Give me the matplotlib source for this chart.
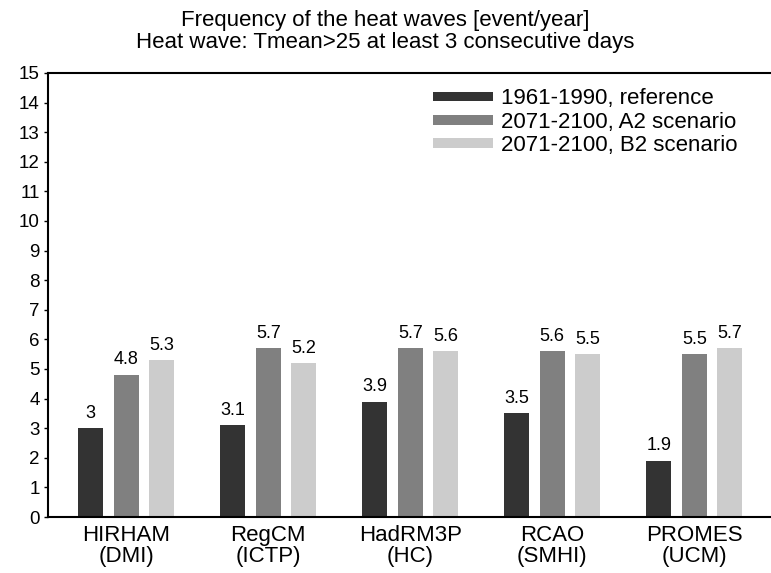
import matplotlib
matplotlib.use('Agg')
import matplotlib.pyplot as plt
import numpy as np

models = ['HIRHAM\n(DMI)', 'RegCM\n(ICTP)', 'HadRM3P\n(HC)', 'RCAO\n(SMHI)', 'PROMES\n(UCM)']
ref_1961 = [3, 3.1, 3.9, 3.5, 1.9]
a2_2071 = [4.8, 5.7, 5.7, 5.6, 5.5]
b2_2071 = [5.3, 5.2, 5.6, 5.5, 5.7]
series_names = ['1961-1990, reference', '2071-2100, A2 scenario', '2071-2100, B2 scenario']
colors = ['#333333', '#808080', '#cccccc']

plt.rcParams['font.family'] = ['Liberation Sans', 'DejaVu Sans']

fig = plt.figure(figsize=(7.71, 5.73), dpi=100)
ax = fig.add_axes([0.0623, 0.0977, 0.9377, 0.775])

x = np.arange(len(models))
width = 0.176
step = 0.25
for i, (vals, name) in enumerate(zip([ref_1961, a2_2071, b2_2071], series_names)):
    bars = ax.bar(x + (i - 1) * step, vals, width, color=colors[i], label=name)
    for b, v in zip(bars, vals):
        ax.text(b.get_x() + b.get_width() / 2, v + 0.22, f'{v:g}',
                ha='center', va='bottom', fontsize=13)

ax.set_xlim(-0.55, 4.54)
ax.set_ylim(0, 15)
ax.set_yticks(range(16))
ax.set_xticks(x)
ax.set_xticklabels(models, fontsize=16, linespacing=0.95)
ax.tick_params(axis='y', labelsize=13.5, length=3, width=1, pad=3)
ax.tick_params(axis='x', length=0, pad=6)
ax.spines['right'].set_visible(False)
for s in ['left', 'bottom', 'top']:
    ax.spines[s].set_linewidth(1.5)

ax.legend(loc='upper left', bbox_to_anchor=(0.532, 0.965), frameon=False,
          fontsize=16, handlelength=2.7, handleheight=0.3,
          labelspacing=0.1, handletextpad=0.37, borderpad=0, borderaxespad=0)

fig.suptitle('Frequency of the heat waves [event/year]\nHeat wave: Tmean>25 at least 3 consecutive days',
             x=0.5, y=0.982, fontsize=16, linespacing=1.05)

fig.savefig('out.png', dpi=100)
